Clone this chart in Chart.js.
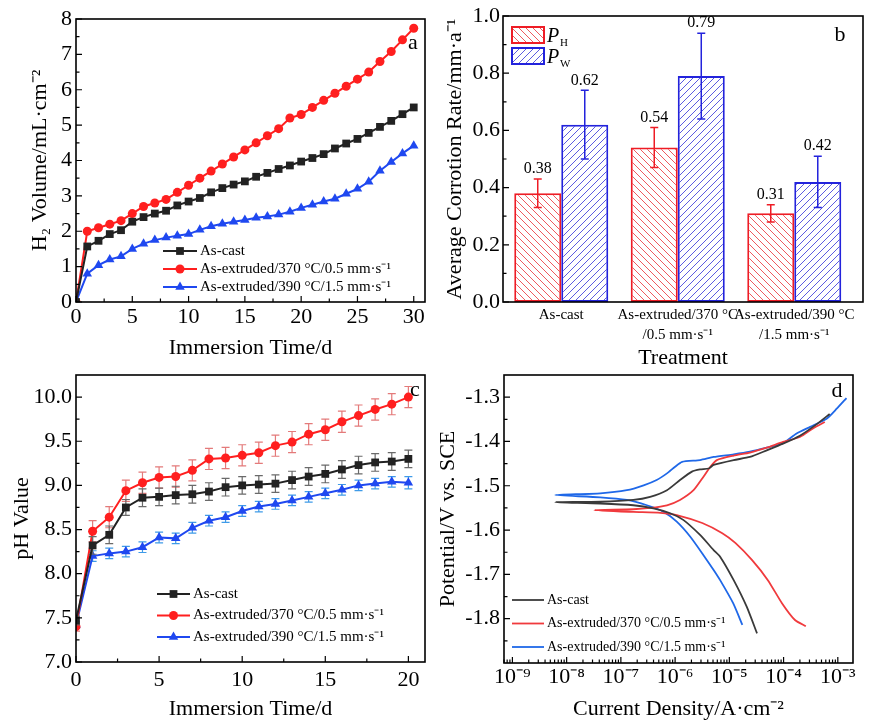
<!DOCTYPE html>
<html>
<head>
<meta charset="utf-8">
<script src="https://cdn.jsdelivr.net/npm/chart.js@4.4.0/dist/chart.umd.min.js"></script>
<style>
html, body { margin: 0; padding: 0; background: #fff; }
#wrap { position: relative; width: 869px; height: 720px; overflow: hidden; }
canvas { position: absolute; }
</style>
</head>
<body>
<div id="wrap">
<canvas id="chartA" width="435" height="372" style="left:0;top:0"></canvas>
<canvas id="chartB" width="434" height="372" style="left:435px;top:0"></canvas>
<canvas id="chartC" width="435" height="360" style="left:0;top:360px"></canvas>
<canvas id="chartD" width="434" height="360" style="left:435px;top:360px"></canvas>
</div>
<script>
'use strict'
// ---------- data ----------
var seriesNames = ['As-cast', 'As-extruded/370 °C/0.5 mm·s⁻¹', 'As-extruded/390 °C/1.5 mm·s⁻¹'];

// (a) hydrogen evolution
var daysA = [0,1,2,3,4,5,6,7,8,9,10,11,12,13,14,15,16,17,18,19,20,21,22,23,24,25,26,27,28,29,30];
var h2Cast = [0,1.57,1.73,1.92,2.03,2.27,2.40,2.50,2.58,2.73,2.84,2.94,3.10,3.22,3.32,3.41,3.54,3.65,3.76,3.86,3.97,4.07,4.18,4.34,4.48,4.61,4.78,4.95,5.12,5.31,5.50];
var h2Ext370 = [0,2.00,2.10,2.20,2.30,2.50,2.70,2.80,2.90,3.10,3.30,3.50,3.70,3.90,4.10,4.30,4.50,4.70,4.90,5.20,5.30,5.50,5.70,5.90,6.10,6.30,6.50,6.80,7.08,7.41,7.74];
var h2Ext390 = [0,0.80,1.04,1.20,1.29,1.50,1.65,1.75,1.82,1.87,1.92,2.04,2.14,2.21,2.27,2.32,2.38,2.42,2.47,2.55,2.66,2.75,2.84,2.92,3.06,3.20,3.40,3.71,3.96,4.20,4.42];

// (b) corrosion rate
var treatments = [['As-cast'], ['As-extruded/370 °C', '/0.5 mm·s⁻¹'], ['As-extruded/390 °C', '/1.5 mm·s⁻¹']];
var rateH = [0.38, 0.54, 0.31];
var rateHErr = [0.05, 0.07, 0.03];
var rateW = [0.62, 0.79, 0.42];
var rateWErr = [0.12, 0.15, 0.09];

// (c) pH
var daysC = [0,1,2,3,4,5,6,7,8,9,10,11,12,13,14,15,16,17,18,19,20];
var phCast = [7.47,8.32,8.44,8.75,8.86,8.87,8.89,8.90,8.93,8.98,9.00,9.01,9.02,9.06,9.10,9.13,9.18,9.23,9.26,9.27,9.30];
var phExt370 = [7.40,8.48,8.64,8.94,9.03,9.09,9.10,9.17,9.30,9.31,9.34,9.37,9.45,9.49,9.58,9.63,9.72,9.79,9.86,9.92,10.00];
var phExt390 = [7.42,8.20,8.23,8.25,8.30,8.41,8.40,8.52,8.60,8.64,8.71,8.76,8.79,8.83,8.87,8.91,8.95,9.00,9.02,9.04,9.03];
var phCastErr = [0.05,0.10,0.10,0.09,0.10,0.10,0.10,0.10,0.10,0.10,0.10,0.10,0.10,0.10,0.10,0.10,0.10,0.10,0.10,0.10,0.10];
var phExt370Err = [0.05,0.12,0.12,0.12,0.12,0.12,0.12,0.12,0.12,0.12,0.12,0.12,0.12,0.12,0.12,0.12,0.12,0.12,0.12,0.12,0.12];
var phExt390Err = [0.04,0.06,0.06,0.06,0.06,0.06,0.06,0.06,0.06,0.06,0.06,0.06,0.06,0.06,0.06,0.06,0.06,0.06,0.06,0.06,0.07];

// (d) polarization curves, log10(current density) and potential, in scan order
var logICast = [-4.49,-4.68,-4.92,-5.17,-5.29,-5.54,-5.85,-6.09,-6.40,-6.77,-7.38,-8.21,-7.38,-6.77,-6.46,-6.15,-5.91,-5.69,-5.54,-5.38,-5.29,-4.92,-4.62,-4.31,-4.01,-3.70,-3.40,-3.15];
var eCast = [-1.833,-1.773,-1.713,-1.660,-1.645,-1.611,-1.577,-1.562,-1.551,-1.544,-1.540,-1.537,-1.536,-1.532,-1.525,-1.510,-1.487,-1.468,-1.463,-1.461,-1.453,-1.442,-1.435,-1.420,-1.405,-1.387,-1.362,-1.338];
var logIExt370 = [-3.59,-3.79,-4.03,-4.29,-4.58,-4.89,-5.13,-5.50,-5.97,-6.27,-6.77,-7.49,-6.77,-6.46,-6.15,-5.91,-5.66,-5.48,-5.35,-5.23,-4.92,-4.62,-4.31,-4.01,-3.70,-3.45,-3.24];
var eExt370 = [-1.817,-1.803,-1.765,-1.713,-1.668,-1.629,-1.607,-1.584,-1.566,-1.561,-1.559,-1.555,-1.553,-1.550,-1.544,-1.532,-1.510,-1.480,-1.457,-1.442,-1.432,-1.425,-1.414,-1.401,-1.390,-1.370,-1.356];
var logIExt390 = [-4.76,-4.93,-5.17,-5.29,-5.48,-5.72,-5.97,-6.21,-6.52,-6.89,-7.38,-8.21,-7.38,-6.89,-6.58,-6.34,-6.15,-6.00,-5.87,-5.54,-5.29,-4.92,-4.62,-4.31,-4.01,-3.76,-3.51,-3.20,-3.02,-2.84];
var eExt390 = [-1.814,-1.765,-1.713,-1.690,-1.656,-1.615,-1.581,-1.559,-1.544,-1.532,-1.526,-1.521,-1.517,-1.510,-1.499,-1.487,-1.472,-1.457,-1.446,-1.442,-1.435,-1.429,-1.423,-1.414,-1.404,-1.382,-1.367,-1.348,-1.326,-1.302];

// ---------- common ----------
var serif = '"Liberation Serif", "Times New Roman", Times, serif';
Chart.defaults.font.family = serif;
Chart.defaults.color = '#000';
Chart.defaults.animation = false;

function xy(xs, ys) { return xs.map(function(x, i) { return { x: x, y: ys[i] }; }); }

function drawMarker(ctx, style, x, y, r, fill) {
    ctx.save();
    ctx.fillStyle = fill;
    ctx.beginPath();
    if (style === 'rect') {
        var s = Math.SQRT1_2 * r;
        ctx.rect(x - s, y - s, 2 * s, 2 * s);
    } else if (style === 'triangle') {
        ctx.moveTo(x, y - r);
        ctx.lineTo(x + r * Math.sin(2 * Math.PI / 3), y + r / 2);
        ctx.lineTo(x - r * Math.sin(2 * Math.PI / 3), y + r / 2);
        ctx.closePath();
    } else {
        ctx.arc(x, y, r, 0, Math.PI * 2);
    }
    ctx.fill();
    ctx.restore();
}

var SUP = { '-': '⁻', '0': '⁰', '1': '¹', '2': '²', '3': '³', '4': '⁴', '5': '⁵', '6': '⁶', '7': '⁷', '8': '⁸', '9': '⁹' };
function sup(s) { return String(s).split('').map(function(c) { return SUP[c] || c; }).join(''); }

var noGrid = { display: false, drawTicks: false };

// frame, inward ticks and panel letter
var framePlugin = {
    id: 'frame',
    afterDraw: function(chart, args, o) {
        var ctx = chart.ctx, a = chart.chartArea;
        ctx.save();
        ctx.strokeStyle = '#000';
        ctx.lineWidth = 1.2;
        ctx.beginPath();
        ['x', 'y'].forEach(function(id) {
            if (id === 'x' && o.noXTicks) return;
            var s = chart.scales[id];
            var majors = s.ticks.map(function(t) { return t.value; });
            var minors = [];
            if (s.type === 'logarithmic') {
                var lo = Math.floor(Math.log10(s.min)), hi = Math.ceil(Math.log10(s.max));
                for (var d = lo; d <= hi; d++) {
                    for (var m = 2; m <= 9; m++) {
                        var v = m * Math.pow(10, d);
                        if (v > s.min && v < s.max) minors.push(v);
                    }
                }
            } else {
                var step = majors[1] - majors[0];
                majors.forEach(function(v) { if (v + step / 2 < s.max) minors.push(v + step / 2); });
                if (majors[0] - step / 2 > s.min) minors.push(majors[0] - step / 2);
            }
            function tick(v, len) {
                var p = s.getPixelForValue(v);
                if (id === 'x') { ctx.moveTo(p, a.bottom); ctx.lineTo(p, a.bottom - len); }
                else { ctx.moveTo(a.left, p); ctx.lineTo(a.left + len, p); }
            }
            majors.forEach(function(v) { tick(v, 6); });
            minors.forEach(function(v) { tick(v, 3.5); });
        });
        ctx.stroke();
        ctx.lineWidth = 1.6;
        ctx.strokeRect(a.left, a.top, a.right - a.left, a.bottom - a.top);
        ctx.fillStyle = '#000';
        ctx.font = '22px ' + serif;
        ctx.textAlign = 'center';
        ctx.textBaseline = 'middle';
        ctx.fillText(o.letter, o.lx, o.ly);
        ctx.restore();
    }
};

// legend drawn inside the plot
var inLegendPlugin = {
    id: 'inLegend',
    afterDraw: function(chart, args, o) {
        if (!o || o.x === undefined) return;
        var ctx = chart.ctx;
        ctx.save();
        ctx.font = o.size + 'px ' + serif;
        ctx.textBaseline = 'middle';
        ctx.textAlign = 'left';
        chart.data.datasets.forEach(function(ds, i) {
            var y = o.y + i * o.dy;
            ctx.strokeStyle = ds.borderColor;
            ctx.lineWidth = ds.borderWidth;
            ctx.beginPath();
            ctx.moveTo(o.x, y);
            ctx.lineTo(o.x + o.len, y);
            ctx.stroke();
            if (ds.pointRadius) drawMarker(ctx, ds.pointStyle, o.x + o.len / 2, y, ds.pointRadius, ds.pointBackgroundColor);
            ctx.fillStyle = '#000';
            ctx.fillText(ds.label, o.x + o.len + 3, y);
        });
        ctx.restore();
    }
};

// vertical error bars for line charts
var errLinePlugin = {
    id: 'errLine',
    beforeDatasetDraw: function(chart, args) {
        var ds = chart.data.datasets[args.index];
        if (!ds.errors) return;
        var ctx = chart.ctx, ys = chart.scales.y, a = chart.chartArea;
        ctx.save();
        ctx.beginPath();
        ctx.rect(a.left, a.top, a.right - a.left, a.bottom - a.top);
        ctx.clip();
        ctx.strokeStyle = ds.errorColor;
        ctx.lineWidth = 1.2;
        ctx.beginPath();
        args.meta.data.forEach(function(pt, j) {
            var v = ds.data[j].y, e = ds.errors[j];
            var t = ys.getPixelForValue(v + e), b = ys.getPixelForValue(v - e);
            ctx.moveTo(pt.x, t); ctx.lineTo(pt.x, b);
            ctx.moveTo(pt.x - 4, t); ctx.lineTo(pt.x + 4, t);
            ctx.moveTo(pt.x - 4, b); ctx.lineTo(pt.x + 4, b);
        });
        ctx.stroke();
        ctx.restore();
    }
};

// error bars, value labels and legend for the bar chart
var barExtrasPlugin = {
    id: 'barExtras',
    afterDatasetsDraw: function(chart) {
        var ctx = chart.ctx, ys = chart.scales.y;
        ctx.save();
        chart.data.datasets.forEach(function(ds, i) {
            var meta = chart.getDatasetMeta(i);
            ctx.strokeStyle = ds.borderColor;
            ctx.lineWidth = 1.5;
            meta.data.forEach(function(bar, j) {
                var v = ds.data[j].y, e = ds.errors[j];
                var t = ys.getPixelForValue(v + e), b = ys.getPixelForValue(v - e);
                ctx.beginPath();
                ctx.moveTo(bar.x, t); ctx.lineTo(bar.x, b);
                ctx.moveTo(bar.x - 4, t); ctx.lineTo(bar.x + 4, t);
                ctx.moveTo(bar.x - 4, b); ctx.lineTo(bar.x + 4, b);
                ctx.stroke();
                ctx.fillStyle = '#000';
                ctx.font = '16px ' + serif;
                ctx.textAlign = 'center';
                ctx.textBaseline = 'bottom';
                ctx.fillText(v.toFixed(2), bar.x, t - 2);
            });
            // legend entry
            var lx = 77, ly = 27 + i * 21;
            ctx.fillStyle = ds.backgroundColor;
            ctx.fillRect(lx, ly, 32, 16);
            ctx.lineWidth = 2;
            ctx.strokeRect(lx, ly, 32, 16);
            ctx.fillStyle = '#000';
            ctx.textAlign = 'left';
            ctx.textBaseline = 'alphabetic';
            ctx.font = 'italic 20px ' + serif;
            ctx.fillText(ds.label.charAt(0), lx + 35, ly + 15);
            ctx.font = '11px ' + serif;
            ctx.fillText(ds.label.slice(1), lx + 48, ly + 19);
        });
        ctx.restore();
    }
};

function hatch(color, forward) {
    var n = 7;
    var c = document.createElement('canvas');
    c.width = n; c.height = n;
    var g = c.getContext('2d');
    g.fillStyle = '#fff';
    g.fillRect(0, 0, n, n);
    g.strokeStyle = color;
    g.lineWidth = 1;
    g.beginPath();
    if (forward) {
        g.moveTo(-1, n + 1); g.lineTo(n + 1, -1);
        g.moveTo(-n - 1, n + 1); g.lineTo(1, -1);
        g.moveTo(-1, 2 * n + 1); g.lineTo(2 * n + 1, -1);
    } else {
        g.moveTo(-1, -1); g.lineTo(n + 1, n + 1);
        g.moveTo(-n - 1, -1); g.lineTo(1, n + 1);
        g.moveTo(-1, -n - 1); g.lineTo(2 * n + 1, n + 1);
    }
    g.stroke();
    return g.createPattern(c, 'repeat');
}

function axisFont(size, lh) { return { family: serif, size: size, lineHeight: lh || 1 }; }

// ---------- (a) ----------
new Chart(document.getElementById('chartA'), {
    type: 'line',
    data: {
        datasets: [
            { label: seriesNames[0], data: xy(daysA, h2Cast), borderColor: '#222222', backgroundColor: '#222222', pointBackgroundColor: '#222222', borderWidth: 2, pointStyle: 'rect', pointRadius: 5.5, pointBorderWidth: 0 },
            { label: seriesNames[1], data: xy(daysA, h2Ext370), borderColor: '#ff1f1f', backgroundColor: '#ff1f1f', pointBackgroundColor: '#ff1f1f', borderWidth: 2, pointStyle: 'circle', pointRadius: 4.5, pointBorderWidth: 0 },
            { label: seriesNames[2], data: xy(daysA, h2Ext390), borderColor: '#1f48f0', backgroundColor: '#1f48f0', pointBackgroundColor: '#1f48f0', borderWidth: 2, pointStyle: 'triangle', pointRadius: 5.5, pointBorderWidth: 0 }
        ]
    },
    options: {
        responsive: false,
        layout: { padding: { top: 19, right: 10, left: 0, bottom: 0 } },
        plugins: {
            legend: { display: false },
            tooltip: { enabled: false },
            frame: { letter: 'a', lx: 413, ly: 43 },
            inLegend: { x: 163, y: 251, dy: 18, len: 34, size: 15 }
        },
        scales: {
            x: {
                type: 'linear', min: 0, max: 31,
                grid: noGrid, border: { display: false },
                ticks: { stepSize: 5, includeBounds: false, padding: 4, font: axisFont(22), maxRotation: 0 },
                title: { display: true, text: 'Immersion Time/d', font: axisFont(22), padding: { top: 0, bottom: 13 } },
                afterFit: function(s) { s.height = 70; }
            },
            y: {
                min: 0, max: 8,
                grid: noGrid, border: { display: false },
                ticks: { stepSize: 1, includeBounds: false, padding: 4, font: axisFont(22) },
                title: { display: true, text: 'H₂ Volume/mL·cm⁻²', font: axisFont(22), padding: { top: 29, bottom: 0 } },
                afterFit: function(s) { s.width = 76; }
            }
        }
    },
    plugins: [framePlugin, inLegendPlugin]
});

// ---------- (b) ----------
new Chart(document.getElementById('chartB'), {
    type: 'bar',
    data: {
        datasets: [
            { label: 'PH', data: xy([1, 2, 3], rateH), errors: rateHErr, backgroundColor: hatch('#ee5a5e', false), borderColor: '#ee1c25', borderWidth: 2, borderSkipped: false, categoryPercentage: 0.807, barPercentage: 1 },
            { label: 'PW', data: xy([1, 2, 3], rateW), errors: rateWErr, backgroundColor: hatch('#5c5ce0', true), borderColor: '#2323dc', borderWidth: 2, borderSkipped: false, categoryPercentage: 0.807, barPercentage: 1 }
        ]
    },
    options: {
        responsive: false,
        layout: { padding: { top: 16, right: 6, left: 0, bottom: 0 } },
        plugins: {
            legend: { display: false },
            tooltip: { enabled: false },
            frame: { letter: 'b', lx: 405, ly: 35, noXTicks: true }
        },
        scales: {
            x: {
                type: 'linear', min: 0.5, max: 3.59, offset: false,
                grid: { display: false, drawTicks: false, offset: false }, border: { display: false },
                afterBuildTicks: function(s) { s.ticks = treatments.map(function(t, i) { return { value: i + 1 }; }); },
                ticks: { padding: 3, font: axisFont(15, 1.33), maxRotation: 0, autoSkip: false,
                    callback: function(v) { return treatments[Math.round(v) - 1]; } },
                title: { display: true, text: 'Treatment', font: axisFont(22), padding: { top: 0, bottom: 3 } },
                afterFit: function(s) { s.height = 70; }
            },
            y: {
                min: 0, max: 1.0,
                grid: noGrid, border: { display: false },
                ticks: { stepSize: 0.2, includeBounds: false, padding: 3, font: axisFont(22),
                    callback: function(v) { return v.toFixed(1); } },
                title: { display: true, text: 'Average Corrotion Rate/mm·a⁻¹', font: axisFont(22), padding: { top: 9, bottom: 0 } },
                afterFit: function(s) { s.width = 68; }
            }
        }
    },
    plugins: [framePlugin, barExtrasPlugin]
});

// ---------- (c) ----------
new Chart(document.getElementById('chartC'), {
    type: 'line',
    data: {
        datasets: [
            { label: seriesNames[0], data: xy(daysC, phCast), errors: phCastErr, errorColor: '#6a6a6a', borderColor: '#222222', backgroundColor: '#222222', pointBackgroundColor: '#222222', borderWidth: 2, pointStyle: 'rect', pointRadius: 5.5, pointBorderWidth: 0 },
            { label: seriesNames[1], data: xy(daysC, phExt370), errors: phExt370Err, errorColor: '#e47a7a', borderColor: '#ff1f1f', backgroundColor: '#ff1f1f', pointBackgroundColor: '#ff1f1f', borderWidth: 2, pointStyle: 'circle', pointRadius: 4.5, pointBorderWidth: 0 },
            { label: seriesNames[2], data: xy(daysC, phExt390), errors: phExt390Err, errorColor: '#3f9be8', borderColor: '#1f48f0', backgroundColor: '#1f48f0', pointBackgroundColor: '#1f48f0', borderWidth: 2, pointStyle: 'triangle', pointRadius: 5.5, pointBorderWidth: 0 }
        ]
    },
    options: {
        responsive: false,
        layout: { padding: { top: 15, right: 10, left: 0, bottom: 0 } },
        plugins: {
            legend: { display: false },
            tooltip: { enabled: false },
            frame: { letter: 'c', lx: 415, ly: 30 },
            inLegend: { x: 157, y: 234, dy: 21.5, len: 33, size: 15 }
        },
        scales: {
            x: {
                type: 'linear', min: 0, max: 21,
                grid: noGrid, border: { display: false },
                ticks: { stepSize: 5, includeBounds: false, padding: 7, font: axisFont(22), maxRotation: 0 },
                title: { display: true, text: 'Immersion Time/d', font: axisFont(22), padding: { top: 0, bottom: 0 } },
                afterFit: function(s) { s.height = 58; }
            },
            y: {
                min: 7, max: 10.25,
                grid: noGrid, border: { display: false },
                ticks: { stepSize: 0.5, includeBounds: false, padding: 4, font: axisFont(22),
                    callback: function(v) { return v.toFixed(1); } },
                title: { display: true, text: 'pH Value', font: axisFont(22), padding: { top: 11, bottom: 0 } },
                afterFit: function(s) { s.width = 76; }
            }
        }
    },
    plugins: [errLinePlugin, framePlugin, inLegendPlugin]
});

// ---------- (d) ----------
function curve(logI, e) { return logI.map(function(l, i) { return { x: Math.pow(10, l), y: e[i] }; }); }

new Chart(document.getElementById('chartD'), {
    type: 'scatter',
    data: {
        datasets: [
            { label: seriesNames[0], data: curve(logICast, eCast), showLine: true, borderColor: '#3a3a3a', borderWidth: 1.8, pointRadius: 0, tension: 0.2 },
            { label: seriesNames[1], data: curve(logIExt370, eExt370), showLine: true, borderColor: '#f03a3d', borderWidth: 1.8, pointRadius: 0, tension: 0.2 },
            { label: seriesNames[2], data: curve(logIExt390, eExt390), showLine: true, borderColor: '#1f68e8', borderWidth: 1.8, pointRadius: 0, tension: 0.2 }
        ]
    },
    options: {
        responsive: false,
        layout: { padding: { top: 15, right: 16, left: 0, bottom: 0 } },
        plugins: {
            legend: { display: false },
            tooltip: { enabled: false },
            frame: { letter: 'd', lx: 402, ly: 31 },
            inLegend: { x: 77, y: 240, dy: 23.5, len: 32, size: 14 }
        },
        scales: {
            x: {
                type: 'logarithmic', min: Math.pow(10, -9.15), max: Math.pow(10, -2.72),
                grid: noGrid, border: { display: false },
                afterBuildTicks: function(s) {
                    var t = [];
                    for (var d = -9; d <= -3; d++) t.push({ value: Math.pow(10, d) });
                    s.ticks = t;
                },
                ticks: { padding: 3, font: axisFont(22), maxRotation: 0, autoSkip: false,
                    callback: function(v) { return '10' + sup(Math.round(Math.log10(v))); } },
                title: { display: true, text: 'Current Density/A·cm⁻²', font: axisFont(22), padding: { top: 0, bottom: 0 } },
                afterFit: function(s) { s.height = 57; }
            },
            y: {
                min: -1.9, max: -1.25,
                grid: noGrid, border: { display: false },
                ticks: { stepSize: 0.1, includeBounds: false, padding: 4, font: axisFont(22),
                    callback: function(v) { return v.toFixed(1); } },
                title: { display: true, text: 'Potential/V vs. SCE', font: axisFont(22), padding: { top: 2, bottom: 0 } },
                afterFit: function(s) { s.width = 69; }
            }
        }
    },
    plugins: [framePlugin, inLegendPlugin]
});
</script>
</body>
</html>
